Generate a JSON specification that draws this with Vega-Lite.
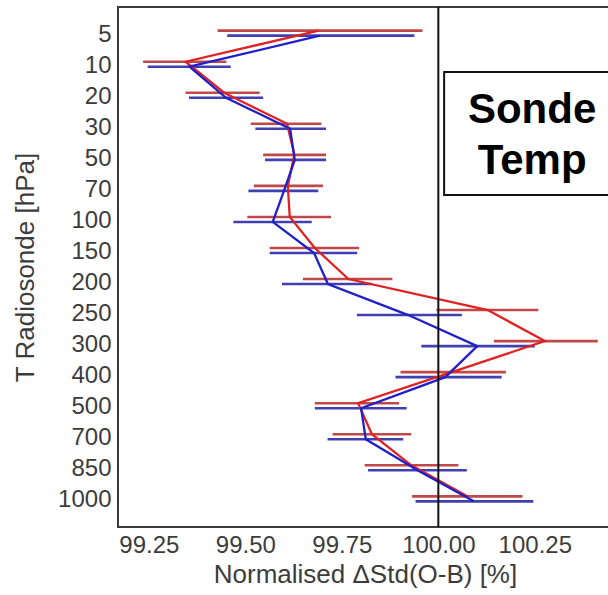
{
  "$schema": "https://vega.github.io/schema/vega-lite/v6.json",
  "width": 494,
  "height": 520,
  "autosize": {"type": "none"},
  "padding": {"left": 118, "top": 7, "right": 0, "bottom": 68},
  "background": "white",
  "config": {
    "view": {"stroke": "#3a3a3a", "strokeWidth": 2},
    "font": "Liberation Sans"
  },
  "datasets": {
    "prof": [
      {"k": 0, "p": "5", "s": "red", "m": 99.69, "lo": 99.428, "hi": 99.959},
      {"k": 1, "p": "10", "s": "red", "m": 99.345, "lo": 99.235, "hi": 99.451},
      {"k": 2, "p": "20", "s": "red", "m": 99.445, "lo": 99.345, "hi": 99.537},
      {"k": 3, "p": "30", "s": "red", "m": 99.608, "lo": 99.514, "hi": 99.697},
      {"k": 4, "p": "50", "s": "red", "m": 99.627, "lo": 99.546, "hi": 99.709},
      {"k": 5, "p": "70", "s": "red", "m": 99.61, "lo": 99.522, "hi": 99.701},
      {"k": 6, "p": "100", "s": "red", "m": 99.615, "lo": 99.505, "hi": 99.722},
      {"k": 7, "p": "150", "s": "red", "m": 99.68, "lo": 99.563, "hi": 99.795},
      {"k": 8, "p": "200", "s": "red", "m": 99.767, "lo": 99.649, "hi": 99.881},
      {"k": 9, "p": "250", "s": "red", "m": 100.128, "lo": 99.995, "hi": 100.259},
      {"k": 10, "p": "300", "s": "red", "m": 100.276, "lo": 100.144, "hi": 100.413},
      {"k": 11, "p": "400", "s": "red", "m": 100.035, "lo": 99.902, "hi": 100.175},
      {"k": 12, "p": "500", "s": "red", "m": 99.792, "lo": 99.68, "hi": 99.898},
      {"k": 13, "p": "700", "s": "red", "m": 99.828, "lo": 99.726, "hi": 99.93},
      {"k": 14, "p": "850", "s": "red", "m": 99.93, "lo": 99.809, "hi": 100.052},
      {"k": 15, "p": "1000", "s": "red", "m": 100.075, "lo": 99.932, "hi": 100.218},
      {"k": 0, "p": "5", "s": "blue", "m": 99.693, "lo": 99.453, "hi": 99.938},
      {"k": 1, "p": "10", "s": "blue", "m": 99.355, "lo": 99.247, "hi": 99.462},
      {"k": 2, "p": "20", "s": "blue", "m": 99.45, "lo": 99.354, "hi": 99.546},
      {"k": 3, "p": "30", "s": "blue", "m": 99.616, "lo": 99.526, "hi": 99.709},
      {"k": 4, "p": "50", "s": "blue", "m": 99.628, "lo": 99.551, "hi": 99.709},
      {"k": 5, "p": "70", "s": "blue", "m": 99.6, "lo": 99.508, "hi": 99.689},
      {"k": 6, "p": "100", "s": "blue", "m": 99.571, "lo": 99.469, "hi": 99.672},
      {"k": 7, "p": "150", "s": "blue", "m": 99.678, "lo": 99.563, "hi": 99.79},
      {"k": 8, "p": "200", "s": "blue", "m": 99.714, "lo": 99.595, "hi": 99.829},
      {"k": 9, "p": "250", "s": "blue", "m": 99.922, "lo": 99.789, "hi": 100.061},
      {"k": 10, "p": "300", "s": "blue", "m": 100.101, "lo": 99.956, "hi": 100.25},
      {"k": 11, "p": "400", "s": "blue", "m": 100.018, "lo": 99.889, "hi": 100.164},
      {"k": 12, "p": "500", "s": "blue", "m": 99.8, "lo": 99.68, "hi": 99.918},
      {"k": 13, "p": "700", "s": "blue", "m": 99.812, "lo": 99.713, "hi": 99.909},
      {"k": 14, "p": "850", "s": "blue", "m": 99.946, "lo": 99.818, "hi": 100.074},
      {"k": 15, "p": "1000", "s": "blue", "m": 100.092, "lo": 99.941, "hi": 100.246}
    ],
    "box": [
      {"x1": 100.015, "x2": 100.45, "y1": 0.875, "y2": 0.6385, "tx": 100.243, "ty": 0.801, "label": "Sonde\nTemp"}
    ]
  },
  "encoding": {
    "x": {
      "type": "quantitative",
      "scale": {"domain": [99.17, 100.45], "nice": false, "zero": false},
      "axis": {
        "title": "Normalised ΔStd(O-B) [%]",
        "values": [99.25, 99.5, 99.75, 100, 100.25],
        "format": ".2f",
        "grid": false,
        "domain": false,
        "ticks": false,
        "labelPadding": 6,
        "labelFontSize": 24,
        "labelColor": "#3c3c3c",
        "titleFontSize": 26,
        "titleFontWeight": "normal",
        "titleColor": "#3c3c3c",
        "titlePadding": 4,
        "labelFlush": false
      }
    }
  },
  "layer": [
    {
      "data": {"name": "prof"},
      "encoding": {
        "y": {
          "field": "p",
          "type": "ordinal",
          "sort": null,
          "scale": {"type": "point", "padding": 0.875},
          "axis": {
            "title": "T Radiosonde [hPa]",
            "grid": false,
            "domain": false,
            "ticks": false,
            "labelPadding": 7,
            "labelFontSize": 24,
            "labelColor": "#3c3c3c",
            "titleFontSize": 26,
            "titleFontWeight": "normal",
            "titleColor": "#3c3c3c",
            "titlePadding": 19
          }
        }
      },
      "layer": [
        {
          "transform": [{"filter": "datum.s == 'red'"}],
          "mark": {"type": "rule", "color": "#c04848", "strokeWidth": 2.6, "yOffset": -3.5},
          "encoding": {"x": {"field": "lo"}, "x2": {"field": "hi"}}
        },
        {
          "transform": [{"filter": "datum.s == 'blue'"}],
          "mark": {"type": "rule", "color": "#4040b0", "strokeWidth": 2.6, "yOffset": 1.5},
          "encoding": {"x": {"field": "lo"}, "x2": {"field": "hi"}}
        },
        {
          "transform": [{"filter": "datum.s == 'red'"}],
          "mark": {"type": "line", "color": "#e02222", "strokeWidth": 2.3, "yOffset": -3.5},
          "encoding": {"x": {"field": "m"}, "order": {"field": "k", "type": "quantitative"}}
        },
        {
          "transform": [{"filter": "datum.s == 'blue'"}],
          "mark": {"type": "line", "color": "#2020c8", "strokeWidth": 2.3, "yOffset": 1.5},
          "encoding": {"x": {"field": "m"}, "order": {"field": "k", "type": "quantitative"}}
        }
      ]
    },
    {
      "data": {"name": "box"},
      "layer": [
        {
          "mark": {"type": "rule", "color": "#111111", "strokeWidth": 2},
          "encoding": {"x": {"datum": 100}}
        },
        {
          "mark": {"type": "rect", "fill": "white", "stroke": "#111111", "strokeWidth": 2},
          "encoding": {
            "x": {"field": "x1"},
            "x2": {"field": "x2"},
            "y": {"field": "y1", "type": "quantitative", "scale": {"domain": [0, 1]}, "axis": null},
            "y2": {"field": "y2"}
          }
        },
        {
          "mark": {"type": "text", "fontSize": 42, "fontWeight": "bold", "color": "#000000", "lineBreak": "\n", "lineHeight": 51, "align": "center", "baseline": "middle"},
          "encoding": {
            "x": {"field": "tx"},
            "y": {"field": "ty", "type": "quantitative", "scale": {"domain": [0, 1]}, "axis": null},
            "text": {"field": "label"}
          }
        }
      ]
    }
  ],
  "resolve": {"scale": {"y": "independent"}}
}
